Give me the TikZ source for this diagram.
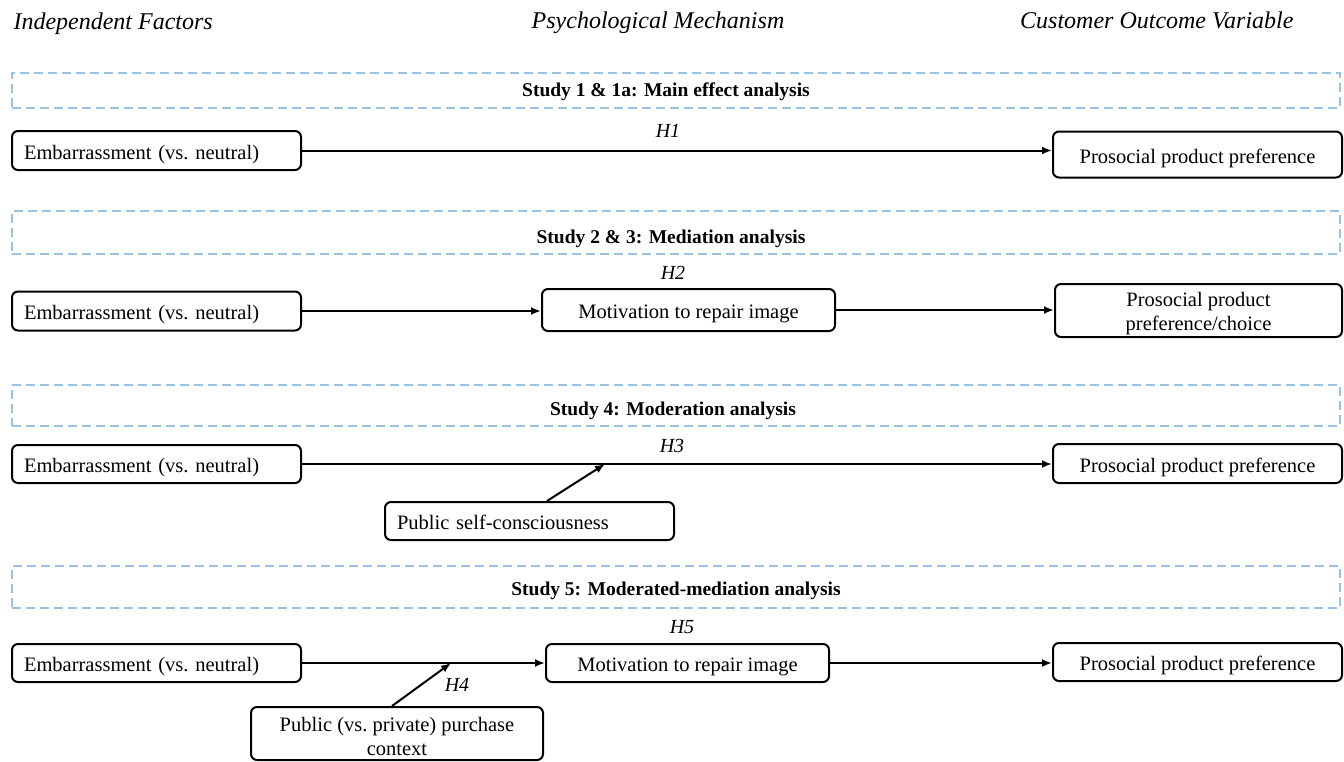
\documentclass[tikz,border=0pt]{standalone}
\usepackage{fontspec}
\setmainfont{Liberation Serif}
\usetikzlibrary{arrows.meta}
\definecolor{dashblue}{RGB}{155,194,230}
\tikzset{
  box/.style={draw=black, line width=2pt, rounded corners=6pt, inner sep=2pt,
    font=\fontsize{20.5}{24}\selectfont, align=center},
  onebox/.style={box, text height=19pt, text depth=2pt},
  leftbox/.style={onebox, align=left, inner xsep=12pt, text width=265pt},
  studybox/.style={draw=dashblue, line width=1.4pt, dash pattern=on 9pt off 5pt, inner sep=0pt},
  studytitle/.style={font=\bfseries\fontsize{19.5}{22}\selectfont},
  header/.style={font=\itshape\fontsize{24}{27}\selectfont},
  hlabel/.style={font=\itshape\fontsize{20}{22}\selectfont},
  link/.style={line width=2pt, -{Latex[length=10pt,width=8pt]}},
}
\begin{document}
\begin{tikzpicture}[x=1pt,y=-1pt]
\useasboundingbox (0,0) rectangle (1344,761);

% headers
\node[header, anchor=base west] (hd1) at (10,29) {Independent Factors};
\node[header, anchor=base] (hd2) at (658,28) {Psychological Mechanism};
\node[header, anchor=base east] (hd3) at (1297,28) {Customer Outcome Variable};

% study boxes
\node[studybox, minimum width=1328pt, minimum height=35pt] (s1) at (676,90.5) {};
\node[studybox, minimum width=1328pt, minimum height=43pt] (s2) at (676,232.5) {};
\node[studybox, minimum width=1328pt, minimum height=41pt] (s3) at (676,405.5) {};
\node[studybox, minimum width=1328pt, minimum height=42pt] (s4) at (676,587) {};
\node[studytitle] (t1) at (666,92) {Study 1 \& 1a: Main effect analysis};
\node[studytitle] (t2) at (671,239) {Study 2 \& 3: Mediation analysis};
\node[studytitle] (t3) at (673,411) {Study 4: Moderation analysis};
\node[studytitle] (t4) at (676,591) {Study 5: Moderated-mediation analysis};

% row 1
\node[leftbox, minimum height=39pt] (e1) at (156.5,150.5) {Embarrassment (vs.\ neutral)};
\node[onebox, minimum width=289pt, minimum height=46pt] (p1) at (1197.5,154.5) {Prosocial product preference};
\draw[link] (e1.east) -- (e1.east -| p1.west);
\node[hlabel] (h1) at (668,131) {H1};

% row 2
\node[leftbox, minimum height=39pt] (e2) at (156.5,311) {Embarrassment (vs.\ neutral)};
\node[onebox, minimum width=293pt, minimum height=42pt] (m2) at (688.5,310) {Motivation to repair image};
\node[box, minimum width=287pt, minimum height=53pt] (p2) at (1198.5,310.5) {\rule{0pt}{20pt}Prosocial product\\preference/choice};
\draw[link] (e2.east) -- (e2.east -| m2.west);
\draw[link] (m2.east) -- (m2.east -| p2.west);
\node[hlabel] (h2) at (673,273) {H2};

% row 3
\node[leftbox, minimum height=38pt] (e3) at (156.5,464) {Embarrassment (vs.\ neutral)};
\node[onebox, minimum width=289pt, minimum height=39pt] (p3) at (1197.5,463.5) {Prosocial product preference};
\draw[link] (e3.east) -- (e3.east -| p3.west);
\node[hlabel] (h3) at (672,446) {H3};
\node[leftbox, minimum height=38pt] (q3) at (529.5,521) {Public self-consciousness};
\coordinate (m3) at (605,464);
\draw[link] ([xshift=17.5pt]q3.north) -- (m3);

% row 4
\node[leftbox, minimum height=38pt] (e4) at (156.5,663) {Embarrassment (vs.\ neutral)};
\node[onebox, minimum width=283pt, minimum height=38pt] (m4) at (687.5,663) {Motivation to repair image};
\node[onebox, minimum width=289pt, minimum height=38pt] (p4) at (1197.5,662) {Prosocial product preference};
\draw[link] (e4.east) -- (e4.east -| m4.west);
\draw[link] (m4.east) -- (m4.east -| p4.west);
\node[hlabel] (h5) at (682,627) {H5};
\node[box, minimum width=292pt, minimum height=53pt] (q4) at (397,733.5) {\rule{0pt}{20pt}Public (vs.\ private) purchase\\context};
\coordinate (c4) at (451,663);
\draw[link] ([xshift=-5pt]q4.north) -- (c4);
\node[hlabel] (h4) at (457,685) {H4};
\end{tikzpicture}
\end{document}
